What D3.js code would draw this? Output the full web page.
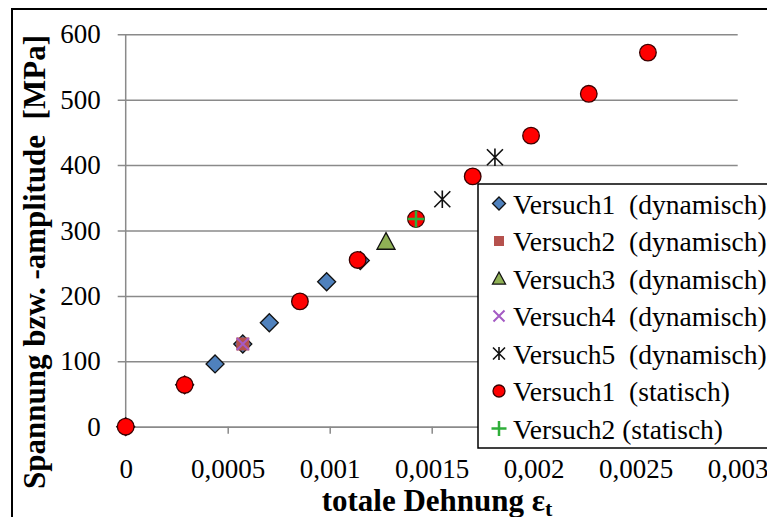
<!DOCTYPE html>
<html>
<head>
<meta charset="utf-8">
<script src="https://cdn.jsdelivr.net/npm/d3@7"></script>
<style>
  html, body { margin: 0; padding: 0; background: #fff; }
  svg { display: block; }
</style>
</head>
<body>
<svg id="chart" width="767" height="517"></svg>
<script>
// Axis ticks
const xTicks = [0, 0.0005, 0.001, 0.0015, 0.002, 0.0025, 0.003];
const yTicks = [0, 100, 200, 300, 400, 500, 600];

// Total strain (x) and stress / stress amplitude in MPa (y) for every test
const v1dynX = [0, 0.000289, 0.000438, 0.000574, 0.000704, 0.000985, 0.00115];
const v1dynY = [0, 64, 96, 126.5, 159, 221.7, 254];
const v2dynX = [0.000574];
const v2dynY = [126.5];
const v3dynX = [0.001276];
const v3dynY = [283];
const v4dynX = [0.000574];
const v4dynY = [126.5];
const v5dynX = [0.001552, 0.00181];
const v5dynY = [347.7, 412];
const v1statX = [0, 0.000289, 0.000854, 0.001137, 0.001423, 0.001701, 0.001987, 0.00227, 0.00256];
const v1statY = [0, 64, 191.6, 255, 317.6, 382.7, 445, 509, 572];
const v2statX = [0.001423];
const v2statY = [317.6];

const seriesNames = [
  "Versuch1  (dynamisch)",
  "Versuch2  (dynamisch)",
  "Versuch3  (dynamisch)",
  "Versuch4  (dynamisch)",
  "Versuch5  (dynamisch)",
  "Versuch1  (statisch)",
  "Versuch2 (statisch)"
];

const FONT = "'Liberation Serif'";

// Marker shapes as d3.symbol types (size = (2r)^2)
const rOf = s => Math.sqrt(s) / 2;
const symDiamond = { draw(c, s) { const r = rOf(s); c.moveTo(0, -r); c.lineTo(r, 0); c.lineTo(0, r); c.lineTo(-r, 0); c.closePath(); } };
const symSquare = { draw(c, s) { const r = rOf(s); c.rect(-r, -r, 2 * r, 2 * r); } };
const symTriangle = { draw(c, s) { const r = rOf(s); c.moveTo(0, -r); c.lineTo(r, r * 0.85); c.lineTo(-r, r * 0.85); c.closePath(); } };
const symX = { draw(c, s) { const r = rOf(s); c.moveTo(-r, -r); c.lineTo(r, r); c.moveTo(r, -r); c.lineTo(-r, r); } };
const symStar = { draw(c, s) { const r = rOf(s); c.moveTo(-r, -r); c.lineTo(r, r); c.moveTo(r, -r); c.lineTo(-r, r); c.moveTo(0, -r * 1.1); c.lineTo(0, r * 1.1); } };
const symCircle = { draw(c, s) { const r = rOf(s); c.moveTo(r, 0); c.arc(0, 0, r, 0, 2 * Math.PI); c.closePath(); } };
const symPlus = { draw(c, s) { const r = rOf(s); c.moveTo(-r, 0); c.lineTo(r, 0); c.moveTo(0, -r); c.lineTo(0, r); } };

const series = [
  { xs: v1dynX, ys: v1dynY, type: symDiamond, r: 9, lr: 6.5, fill: "#4f81bd", stroke: "#111", sw: 1.3 },
  { xs: v2dynX, ys: v2dynY, type: symSquare, r: 6.5, lr: 5, fill: "#b5514d", stroke: "none", sw: 0 },
  { xs: v3dynX, ys: v3dynY, type: symTriangle, r: 9, lr: 6.5, fill: "#8fb055", stroke: "#111", sw: 1.3 },
  { xs: v4dynX, ys: v4dynY, type: symX, r: 6, lr: 5.5, fill: "none", stroke: "#a45bc4", sw: 2 },
  { xs: v5dynX, ys: v5dynY, type: symStar, r: 8, lr: 6, fill: "none", stroke: "#111", sw: 1.6 },
  { xs: v1statX, ys: v1statY, type: symCircle, r: 8.3, lr: 6, fill: "#ff0000", stroke: "#3a0000", sw: 1.3 },
  { xs: v2statX, ys: v2statY, type: symPlus, r: 8.5, lr: 7.5, fill: "none", stroke: "#2fae3a", sw: 2.5 }
];

const svg = d3.select("#chart");
svg.append("rect").attr("width", 767).attr("height", 517).attr("fill", "#fff");

// Chart frame
svg.append("rect").attr("x", 12).attr("y", 9).attr("width", 800).attr("height", 600)
  .attr("fill", "none").attr("stroke", "#000").attr("stroke-width", 2);

const x = d3.scaleLinear().domain([0, 0.003]).range([125.7, 737.7]);
const y = d3.scaleLinear().domain([0, 600]).range([426.7, 34.3]);
const de = d3.formatLocale({ decimal: ",", thousands: ".", grouping: [3], currency: ["", "\u00a0€"] });
const fmtX = de.format(".4~f");

const gridColor = "#8a8a8a";
const plotW = x.range()[1] - x.range()[0];

// Horizontal grid lines with short ticks left of the value axis
const yAxis = d3.axisLeft(y).tickValues(yTicks).tickSizeInner(-(plotW + 8)).tickSizeOuter(0).tickPadding(17);
const gy = svg.append("g").attr("transform", `translate(${x(0) - 8},0)`).call(yAxis);
gy.attr("font-family", FONT).attr("font-size", 27);
gy.select(".domain").remove();
gy.selectAll(".tick line").attr("stroke", gridColor).attr("stroke-width", 1.5);
gy.selectAll(".tick text").attr("font-family", FONT).attr("font-size", 27).attr("fill", "#000");

// Vertical value axis line
svg.append("line").attr("x1", x(0)).attr("x2", x(0)).attr("y1", y(600)).attr("y2", y(0))
  .attr("stroke", gridColor).attr("stroke-width", 1.5);

// Category axis with ticks below
const xAxis = d3.axisBottom(x).tickValues(xTicks).tickFormat(fmtX).tickSizeInner(7).tickSizeOuter(0).tickPadding(25);
const gx = svg.append("g").attr("transform", `translate(0,${y(0)})`).call(xAxis);
gx.attr("font-family", FONT).attr("font-size", 27);
gx.select(".domain").attr("stroke", gridColor).attr("stroke-width", 1.5);
gx.selectAll(".tick line").attr("stroke", gridColor).attr("stroke-width", 1.5);
gx.selectAll(".tick text").attr("font-family", FONT).attr("font-size", 27).attr("fill", "#000");

// Axis titles
svg.append("text")
  .attr("transform", `translate(45,262) rotate(-90)`)
  .attr("text-anchor", "middle")
  .attr("font-family", FONT).attr("font-size", 31).attr("font-weight", "bold")
  .style("white-space", "pre")
  .text("Spannung bzw. -amplitude  [MPa]");

const xt = svg.append("text")
  .attr("x", 437).attr("y", 511)
  .attr("text-anchor", "middle")
  .attr("font-family", FONT).attr("font-size", 31).attr("font-weight", "bold");
xt.append("tspan").text("totale Dehnung ε");
xt.append("tspan").attr("font-size", 22).attr("dy", 5).text("t");

// Legend
const lg = svg.append("g");
lg.append("rect").attr("x", 478).attr("y", 184).attr("width", 320).attr("height", 264)
  .attr("fill", "#fff").attr("stroke", "#000").attr("stroke-width", 1.5);
series.forEach((s, i) => {
  const cy = 203.5 + i * 37.5;
  lg.append("path")
    .attr("transform", `translate(499,${cy})`)
    .attr("d", d3.symbol().type(s.type).size((2 * s.lr) ** 2)())
    .attr("fill", s.fill).attr("stroke", s.stroke).attr("stroke-width", s.sw);
  lg.append("text").attr("x", 513).attr("y", cy + 10)
    .attr("font-family", FONT).attr("font-size", 27.5)
    .style("white-space", "pre").text(seriesNames[i]);
});

// Data markers, series drawn in order
series.forEach(s => {
  const pts = s.xs.map((v, i) => [v, s.ys[i]]);
  svg.append("g").selectAll("path").data(pts).join("path")
    .attr("transform", d => `translate(${x(d[0])},${y(d[1])})`)
    .attr("d", d3.symbol().type(s.type).size((2 * s.r) ** 2)())
    .attr("fill", s.fill).attr("stroke", s.stroke).attr("stroke-width", s.sw);
});
</script>
</body>
</html>
